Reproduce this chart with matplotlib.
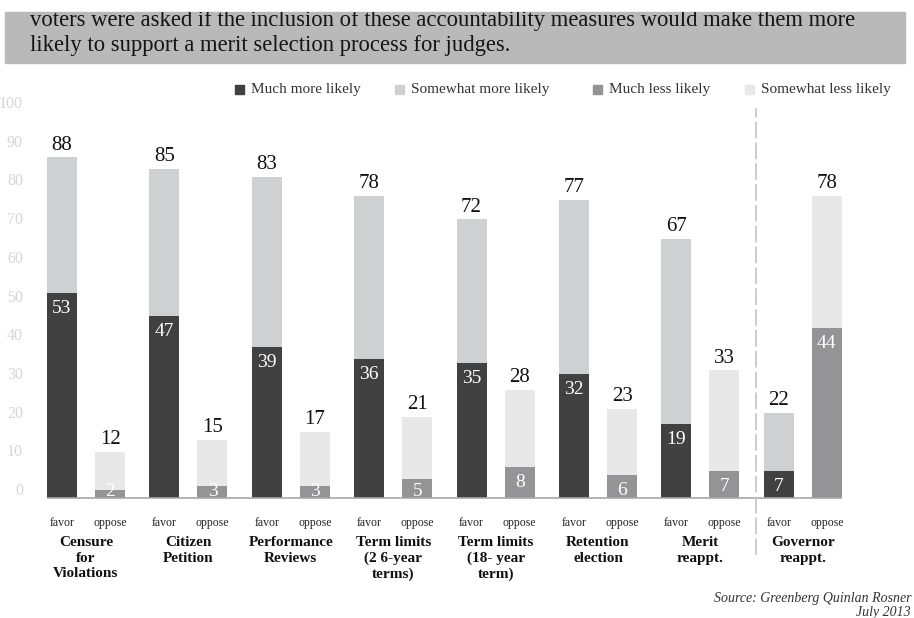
import numpy as np
import matplotlib
matplotlib.use('Agg')
import matplotlib.pyplot as plt
import matplotlib.patches as mpatches

# values
categories = ['Censure\nfor\nViolations', 'Citizen\nPetition', 'Performance\nReviews',
              'Term limits\n(2 6-year\nterms)', 'Term limits\n(18- year\nterm)',
              'Retention\nelection', 'Merit\nreappt.', 'Governor\nreappt.']
favor_much = [53, 47, 39, 36, 35, 32, 19, 7]
favor_total = [88, 85, 83, 78, 72, 77, 67, 22]
oppose_much = [2, 3, 3, 5, 8, 6, 7, 44]
oppose_total = [12, 15, 17, 21, 28, 23, 33, 78]
series_names = ['Much more likely', 'Somewhat more likely', 'Much less likely', 'Somewhat less likely']
sub_labels = ['favor', 'oppose']
y_ticks = list(range(0, 101, 10))

header_1 = 'voters were asked if the inclusion of these accountability measures would make them more'
header_2 = 'likely to support a merit selection process for judges.'
source = 'Source: Greenberg Quinlan Rosner\nJuly 2013'

c_dark = '#414141'
c_light = '#cfd0d1'
c_mid = '#949496'
c_pale = '#e8e8e8'
series_colors = [c_dark, c_light, c_mid, c_pale]

plt.rcParams['font.family'] = ['Liberation Serif', 'DejaVu Serif']

W, H = 914, 618
fig = plt.figure(figsize=(W / 100, H / 100), dpi=100)

# grey header band, first line cropped at the top
band = mpatches.Rectangle((5 / W, 1 - 63 / H), 900 / W, 51 / H,
                          transform=fig.transFigure, color='#b9b9b9', zorder=0)
fig.add_artist(band)
t1 = fig.text(30 / W, 1 - 26 / H, header_1, va='baseline', fontsize=16.3, color='#151515')
t1.set_clip_path(band)
fig.text(30 / W, 1 - 51 / H, header_2, va='baseline', fontsize=16.3, color='#151515')

ax = fig.add_axes([30 / W, 1 - 498 / H, 850 / W, 398 / H])
ax.set_xlim((30 - 86) / 102.4, (880 - 86) / 102.4)
ax.set_ylim(0, 398 / 3.87)

x = np.arange(len(categories))
off, w = 0.235, 0.293
fav_x = x - off
opp_x = x + off
fav_some = np.array(favor_total) - np.array(favor_much)
opp_some = np.array(oppose_total) - np.array(oppose_much)

ax.bar(fav_x, favor_much, w, color=c_dark)
ax.bar(fav_x, fav_some, w, bottom=favor_much, color=c_light)
ax.bar(opp_x, oppose_much, w, color=c_mid)
ax.bar(opp_x, opp_some, w, bottom=oppose_much, color=c_pale)

for xs, tot, much in [(fav_x, favor_total, favor_much), (opp_x, oppose_total, oppose_much)]:
    for xi, t, m in zip(xs, tot, much):
        ax.annotate(str(t), (xi, t), xytext=(0, 2), textcoords='offset points',
                    ha='center', va='bottom', fontsize=15, color='#111111')
        ax.text(xi, max(m - 4, 1.8), str(m), ha='center', va='center',
                fontsize=14, color='white')

# baseline and divider
ax.hlines(0, fav_x[0] - w / 2, opp_x[-1] + w / 2, color='#a8a8a8', lw=1.2, clip_on=False)
sep = (opp_x[6] + fav_x[7]) / 2 + 0.04
ax.vlines(sep, -14.7, 100.8, colors='#c4c4c4', linestyles=(0, (10, 2.5)), lw=1.2, clip_on=False)

# faint y labels, drawn slightly above their gridline like the reference
for v in y_ticks:
    ax.text(-7 / 850, v + 1.8, str(v), transform=ax.get_yaxis_transform(),
            ha='right', va='center', fontsize=11.5, color='#d6d6d6')

for i, cat in enumerate(categories):
    ax.text(fav_x[i], -6.5, sub_labels[0], ha='center', va='center', fontsize=8.5, color='#222222')
    ax.text(opp_x[i], -6.5, sub_labels[1], ha='center', va='center', fontsize=8.5, color='#222222')
    ax.text(x[i], -9.9, cat, ha='center', va='top', fontsize=11, fontweight='bold',
            linespacing=1.25, color='#111111')

ax.set_xticks([])
ax.set_yticks([])
for s in ax.spines.values():
    s.set_visible(False)

# legend row: square + label
legend_left = [235, 395, 593, 745]
for name, col, lx in zip(series_names, series_colors, legend_left):
    fig.add_artist(mpatches.Rectangle((lx / W, 1 - 93.5 / H), 9 / W, 9 / H,
                                      transform=fig.transFigure, color=col))
    fig.text((lx + 16) / W, 1 - 89 / H, name, va='center', fontsize=11, color='#333333')

fig.text(911 / W, 1 - 592 / H, source, ha='right', va='top', fontsize=10,
         style='italic', color='#333333', linespacing=1.1, multialignment='right')

fig.savefig('out.png', dpi=100)
